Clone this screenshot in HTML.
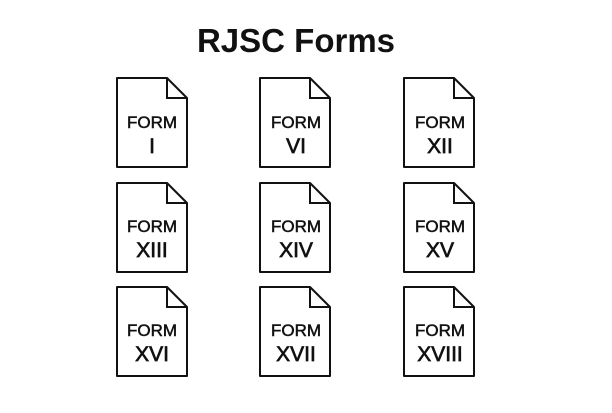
<!DOCTYPE html>
<html><head><style>
body{margin:0;width:612px;height:408px;background:#fff;overflow:hidden;font-family:"Liberation Sans",sans-serif}
</style></head><body>
<svg width="612" height="408" xmlns="http://www.w3.org/2000/svg">
<text x="296" y="52" text-anchor="middle" font-family="Liberation Sans" font-weight="bold" font-size="33" fill="#111">RJSC Forms</text>
<defs>
<g id="doc"><path d="M0,0 H50 L70,20 V89 H0 Z" fill="#fff" stroke="#111" stroke-width="2" stroke-linejoin="round"/><path d="M50,0 V20 H70" fill="none" stroke="#111" stroke-width="2"/></g>
</defs>
<g font-family="Liberation Sans" fill="#111" text-anchor="middle" stroke="#111" stroke-width="0.5">
<use href="#doc" x="117" y="78"/><use href="#doc" x="260" y="78"/><use href="#doc" x="404" y="78"/>
<use href="#doc" x="117" y="183"/><use href="#doc" x="260" y="183"/><use href="#doc" x="404" y="183"/>
<use href="#doc" x="117" y="287"/><use href="#doc" x="260" y="287"/><use href="#doc" x="404" y="287"/>
<g font-size="17">
<text x="152" y="128">FORM</text><text x="296" y="128">FORM</text><text x="440" y="128">FORM</text>
<text x="152" y="232">FORM</text><text x="296" y="232">FORM</text><text x="440" y="232">FORM</text>
<text x="152" y="336">FORM</text><text x="296" y="336">FORM</text><text x="440" y="336">FORM</text>
</g>
<g font-size="21" stroke-width="0.7">
<text x="152" y="153">I</text><text x="296" y="153">VI</text><text x="440" y="153">XII</text>
<text x="152" y="257">XIII</text><text x="296" y="257">XIV</text><text x="440" y="257">XV</text>
<text x="152" y="361">XVI</text><text x="296" y="361">XVII</text><text x="440" y="361">XVIII</text>
</g>
</g>
</svg>
</body></html>
